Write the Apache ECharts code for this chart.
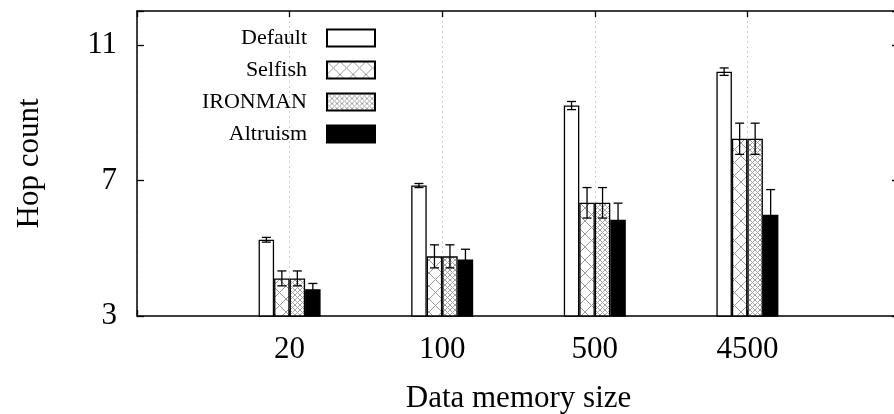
<!DOCTYPE html>
<html>
<head>
<meta charset="utf-8">
<script src="https://cdn.jsdelivr.net/npm/echarts@6/dist/echarts.min.js"></script>
<style>
html,body{margin:0;padding:0;background:#fff;}
#chart{width:894px;height:414px;}
</style>
</head>
<body>
<div id="chart"></div>
<script>
// ---- data ----
const categories = ['20', '100', '500', '4500'];
const seriesNames = ['Default', 'Selfish', 'IRONMAN', 'Altruism'];
const defaultVals = [5.25, 6.85, 9.21, 10.21];
const defaultErr = [0.07, 0.06, 0.12, 0.11];
const selfishVals = [4.11, 4.76, 6.34, 8.23];
const selfishErr = [0.22, 0.34, 0.45, 0.46];
const ironmanVals = [4.11, 4.76, 6.34, 8.23];
const ironmanErr = [0.22, 0.34, 0.45, 0.46];
const altruismVals = [3.79, 4.67, 5.84, 5.99];
const altruismErr = [0.17, 0.30, 0.49, 0.74];
const yTicks = [3, 7, 11];

// ---- styling helpers ----
const FONT = 'Liberation Serif';
const BAR_W = 15.5;

function makePattern(size, color, lw) {
  const c = document.createElement('canvas');
  c.width = size; c.height = size;
  const ctx = c.getContext('2d');
  ctx.fillStyle = '#fff';
  ctx.fillRect(0, 0, size, size);
  ctx.strokeStyle = color;
  ctx.lineWidth = lw;
  ctx.beginPath();
  ctx.moveTo(0, 0); ctx.lineTo(size, size);
  ctx.moveTo(size, 0); ctx.lineTo(0, size);
  ctx.stroke();
  return c;
}
const selfishPattern = { image: makePattern(13, '#9a9a9a', 1), repeat: 'repeat' };
const ironmanPattern = { image: makePattern(5, '#a5a5a5', 1), repeat: 'repeat' };

// padded category axis (empty slot at each end, boundaryGap false)
const axisCats = [''].concat(categories, ['']);
function pad(arr) { return ['-'].concat(arr, ['-']); }

const barDefs = [
  { name: 'Default', vals: defaultVals, err: defaultErr, color: '#ffffff' },
  { name: 'Selfish', vals: selfishVals, err: selfishErr, color: selfishPattern },
  { name: 'IRONMAN', vals: ironmanVals, err: ironmanErr, color: ironmanPattern },
  { name: 'Altruism', vals: altruismVals, err: altruismErr, color: '#000000' }
];

const series = [];
barDefs.forEach(function (d) {
  series.push({
    name: d.name,
    type: 'bar',
    data: pad(d.vals),
    barWidth: BAR_W,
    barGap: '0%',
    itemStyle: { color: d.color, borderColor: '#000', borderWidth: 1.3 },
    z: 2
  });
});
barDefs.forEach(function (d, si) {
  const off = (si - 1.5) * BAR_W;
  series.push({
    name: 'err_' + d.name,
    type: 'custom',
    z: 5,
    silent: true,
    data: d.vals.map(function (v, i) { return [i + 1, v, d.err[i]]; }),
    renderItem: function (params, api) {
      const ci = api.value(0), v = api.value(1), e = api.value(2);
      const t = api.coord([ci, v + e]);
      const b = api.coord([ci, v - e]);
      const x = t[0] + off;
      const cap = 4.5;
      const st = { stroke: '#000', lineWidth: 1.3 };
      return {
        type: 'group',
        children: [
          { type: 'line', shape: { x1: x, y1: t[1], x2: x, y2: b[1] }, style: st },
          { type: 'line', shape: { x1: x - cap, y1: t[1], x2: x + cap, y2: t[1] }, style: st },
          { type: 'line', shape: { x1: x - cap, y1: b[1], x2: x + cap, y2: b[1] }, style: st }
        ]
      };
    }
  });
});

const chart = echarts.init(document.getElementById('chart'));
chart.setOption({
  animation: false,
  backgroundColor: '#fff',
  textStyle: { fontFamily: FONT, color: '#000' },
  grid: { left: 137, top: 11, right: -6, bottom: 98, containLabel: false, outerBoundsMode: 'none' },
  legend: {
    data: seriesNames,
    orient: 'vertical',
    align: 'right',
    icon: 'rect',
    right: 513,
    top: 22,
    itemWidth: 48,
    itemHeight: 17,
    itemGap: 10,
    selectedMode: false,
    textStyle: { fontFamily: FONT, fontSize: 22, color: '#000', padding: [0, 15, 0, 0] }
  },
  xAxis: [{
    type: 'category',
    data: axisCats,
    boundaryGap: false,
    position: 'bottom',
    name: 'Data memory size',
    nameLocation: 'middle',
    nameGap: 67,
    nameTextStyle: { fontFamily: FONT, fontSize: 31, color: '#000' },
    axisLine: { show: true, lineStyle: { color: '#000', width: 1.5 } },
    axisTick: { show: true, inside: true, length: 6, lineStyle: { color: '#000', width: 1.3 } },
    axisLabel: { fontFamily: FONT, fontSize: 31, color: '#000', margin: 18 },
    splitLine: { show: true, lineStyle: { color: '#cfcfcf', type: [2, 3], width: 1 } }
  }, {
    type: 'category',
    data: axisCats,
    boundaryGap: false,
    position: 'top',
    axisLine: { show: true, lineStyle: { color: '#000', width: 1.5 } },
    axisTick: { show: true, inside: true, length: 6, lineStyle: { color: '#000', width: 1.3 } },
    axisLabel: { show: false },
    splitLine: { show: false }
  }],
  yAxis: [{
    type: 'value',
    min: 3,
    max: 12,
    interval: 4,
    name: 'Hop count',
    nameLocation: 'middle',
    nameGap: 92,
    nameRotate: 90,
    nameTextStyle: { fontFamily: FONT, fontSize: 31, color: '#000' },
    axisLine: { show: true, lineStyle: { color: '#000', width: 1.5 } },
    axisTick: { show: true, inside: true, length: 7, lineStyle: { color: '#000', width: 1.3 } },
    axisLabel: {
      fontFamily: FONT, fontSize: 31, color: '#000', margin: 20,
      formatter: function (v) { return yTicks.indexOf(v) >= 0 ? String(v) : ''; }
    },
    splitLine: { show: false }
  }, {
    type: 'value',
    min: 3,
    max: 12,
    interval: 4,
    position: 'right',
    axisLine: { show: true, lineStyle: { color: '#000', width: 1.5 } },
    axisTick: { show: true, inside: true, length: 8, lineStyle: { color: '#000', width: 1.3 } },
    axisLabel: { show: false },
    splitLine: { show: false }
  }],
  series: series
});
</script>
</body>
</html>
